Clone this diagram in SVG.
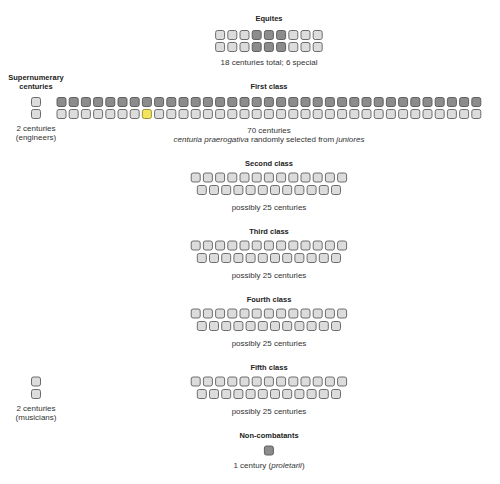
<svg xmlns="http://www.w3.org/2000/svg" xmlns:xlink="http://www.w3.org/1999/xlink" width="500" height="484" viewBox="0 0 500 484">
<style>
text{font-family:"Liberation Sans",Arial,Helvetica,sans-serif;fill:#222;text-anchor:middle}
.t{font-size:7.5px;font-weight:bold}
.c{font-size:8px;fill:#333}
.l{fill:#dcdcdc;stroke:#5e5e5e;stroke-width:0.9}
.d{fill:#8c8c8c;stroke:#555;stroke-width:0.9}
.y{fill:#f2e55c;stroke:#8f8530;stroke-width:0.9}
</style>
<defs>
<rect id="b" width="9" height="9" rx="2"/>
<g id="rows25">
<use href="#b" class="l" x="191.2" y="0"/><use href="#b" class="l" x="203.4" y="0"/><use href="#b" class="l" x="215.6" y="0"/><use href="#b" class="l" x="227.8" y="0"/><use href="#b" class="l" x="240" y="0"/><use href="#b" class="l" x="252.2" y="0"/><use href="#b" class="l" x="264.4" y="0"/><use href="#b" class="l" x="276.6" y="0"/><use href="#b" class="l" x="288.8" y="0"/><use href="#b" class="l" x="301" y="0"/><use href="#b" class="l" x="313.2" y="0"/><use href="#b" class="l" x="325.4" y="0"/><use href="#b" class="l" x="337.6" y="0"/>
<use href="#b" class="l" x="197.3" y="12.5"/><use href="#b" class="l" x="209.5" y="12.5"/><use href="#b" class="l" x="221.7" y="12.5"/><use href="#b" class="l" x="233.9" y="12.5"/><use href="#b" class="l" x="246.1" y="12.5"/><use href="#b" class="l" x="258.3" y="12.5"/><use href="#b" class="l" x="270.5" y="12.5"/><use href="#b" class="l" x="282.7" y="12.5"/><use href="#b" class="l" x="294.9" y="12.5"/><use href="#b" class="l" x="307.1" y="12.5"/><use href="#b" class="l" x="319.3" y="12.5"/><use href="#b" class="l" x="331.5" y="12.5"/>
</g>
</defs>
<rect width="500" height="484" fill="#fff"/>

<g id="equites">
<text class="t" x="269" y="21">Equites</text>
<use href="#b" class="l" x="215.6" y="30.5"/><use href="#b" class="l" x="227.8" y="30.5"/><use href="#b" class="l" x="240" y="30.5"/><use href="#b" class="d" x="252.2" y="30.5"/><use href="#b" class="d" x="264.4" y="30.5"/><use href="#b" class="d" x="276.6" y="30.5"/><use href="#b" class="l" x="288.8" y="30.5"/><use href="#b" class="l" x="301" y="30.5"/><use href="#b" class="l" x="313.2" y="30.5"/>
<use href="#b" class="l" x="215.6" y="42.5"/><use href="#b" class="l" x="227.8" y="42.5"/><use href="#b" class="l" x="240" y="42.5"/><use href="#b" class="d" x="252.2" y="42.5"/><use href="#b" class="d" x="264.4" y="42.5"/><use href="#b" class="d" x="276.6" y="42.5"/><use href="#b" class="l" x="288.8" y="42.5"/><use href="#b" class="l" x="301" y="42.5"/><use href="#b" class="l" x="313.2" y="42.5"/>
<text class="c" x="269" y="65">18 centuries total; 6 special</text>
</g>

<g id="engineers">
<text class="t" x="36" y="80">Supernumerary</text>
<text class="t" x="36" y="89">centuries</text>
<use href="#b" class="l" x="31.5" y="97.5"/>
<use href="#b" class="l" x="31.5" y="109.5"/>
<text class="c" x="36" y="131">2 centuries</text>
<text class="c" x="36" y="139.5">(engineers)</text>
</g>

<g id="first-class">
<text class="t" x="269" y="89">First class</text>
<use href="#b" class="d" x="57" y="97.5"/><use href="#b" class="d" x="69.2" y="97.5"/><use href="#b" class="d" x="81.4" y="97.5"/><use href="#b" class="d" x="93.6" y="97.5"/><use href="#b" class="d" x="105.8" y="97.5"/><use href="#b" class="d" x="118" y="97.5"/><use href="#b" class="d" x="130.2" y="97.5"/><use href="#b" class="d" x="142.4" y="97.5"/><use href="#b" class="d" x="154.6" y="97.5"/><use href="#b" class="d" x="166.8" y="97.5"/><use href="#b" class="d" x="179" y="97.5"/><use href="#b" class="d" x="191.2" y="97.5"/><use href="#b" class="d" x="203.4" y="97.5"/><use href="#b" class="d" x="215.6" y="97.5"/><use href="#b" class="d" x="227.8" y="97.5"/><use href="#b" class="d" x="240" y="97.5"/><use href="#b" class="d" x="252.2" y="97.5"/><use href="#b" class="d" x="264.4" y="97.5"/><use href="#b" class="d" x="276.6" y="97.5"/><use href="#b" class="d" x="288.8" y="97.5"/><use href="#b" class="d" x="301" y="97.5"/><use href="#b" class="d" x="313.2" y="97.5"/><use href="#b" class="d" x="325.4" y="97.5"/><use href="#b" class="d" x="337.6" y="97.5"/><use href="#b" class="d" x="349.8" y="97.5"/><use href="#b" class="d" x="362" y="97.5"/><use href="#b" class="d" x="374.2" y="97.5"/><use href="#b" class="d" x="386.4" y="97.5"/><use href="#b" class="d" x="398.6" y="97.5"/><use href="#b" class="d" x="410.8" y="97.5"/><use href="#b" class="d" x="423" y="97.5"/><use href="#b" class="d" x="435.2" y="97.5"/><use href="#b" class="d" x="447.4" y="97.5"/><use href="#b" class="d" x="459.6" y="97.5"/><use href="#b" class="d" x="471.8" y="97.5"/>
<use href="#b" class="l" x="57" y="109.5"/><use href="#b" class="l" x="69.2" y="109.5"/><use href="#b" class="l" x="81.4" y="109.5"/><use href="#b" class="l" x="93.6" y="109.5"/><use href="#b" class="l" x="105.8" y="109.5"/><use href="#b" class="l" x="118" y="109.5"/><use href="#b" class="l" x="130.2" y="109.5"/><use href="#b" class="y" x="142.4" y="109.5"/><use href="#b" class="l" x="154.6" y="109.5"/><use href="#b" class="l" x="166.8" y="109.5"/><use href="#b" class="l" x="179" y="109.5"/><use href="#b" class="l" x="191.2" y="109.5"/><use href="#b" class="l" x="203.4" y="109.5"/><use href="#b" class="l" x="215.6" y="109.5"/><use href="#b" class="l" x="227.8" y="109.5"/><use href="#b" class="l" x="240" y="109.5"/><use href="#b" class="l" x="252.2" y="109.5"/><use href="#b" class="l" x="264.4" y="109.5"/><use href="#b" class="l" x="276.6" y="109.5"/><use href="#b" class="l" x="288.8" y="109.5"/><use href="#b" class="l" x="301" y="109.5"/><use href="#b" class="l" x="313.2" y="109.5"/><use href="#b" class="l" x="325.4" y="109.5"/><use href="#b" class="l" x="337.6" y="109.5"/><use href="#b" class="l" x="349.8" y="109.5"/><use href="#b" class="l" x="362" y="109.5"/><use href="#b" class="l" x="374.2" y="109.5"/><use href="#b" class="l" x="386.4" y="109.5"/><use href="#b" class="l" x="398.6" y="109.5"/><use href="#b" class="l" x="410.8" y="109.5"/><use href="#b" class="l" x="423" y="109.5"/><use href="#b" class="l" x="435.2" y="109.5"/><use href="#b" class="l" x="447.4" y="109.5"/><use href="#b" class="l" x="459.6" y="109.5"/><use href="#b" class="l" x="471.8" y="109.5"/>
<text class="c" x="269" y="133">70 centuries</text>
<text class="c" x="269" y="142"><tspan font-style="italic">centuria praerogativa</tspan> randomly selected from <tspan font-style="italic">juniores</tspan></text>
</g>

<g id="second-class">
<text class="t" x="269" y="166">Second class</text>
<use href="#rows25" y="173"/>
<text class="c" x="269" y="210">possibly 25 centuries</text>
</g>

<g id="third-class">
<text class="t" x="269" y="234">Third class</text>
<use href="#rows25" y="241"/>
<text class="c" x="269" y="278">possibly 25 centuries</text>
</g>

<g id="fourth-class">
<text class="t" x="269" y="302">Fourth class</text>
<use href="#rows25" y="309"/>
<text class="c" x="269" y="346">possibly 25 centuries</text>
</g>

<g id="fifth-class">
<text class="t" x="269" y="370">Fifth class</text>
<use href="#rows25" y="377"/>
<text class="c" x="269" y="414">possibly 25 centuries</text>
</g>

<g id="musicians">
<use href="#b" class="l" x="31.5" y="377"/>
<use href="#b" class="l" x="31.5" y="389.5"/>
<text class="c" x="36" y="411">2 centuries</text>
<text class="c" x="36" y="419.5">(musicians)</text>
</g>

<g id="non-combatants">
<text class="t" x="269" y="438">Non-combatants</text>
<use href="#b" class="d" x="264.4" y="446"/>
<text class="c" x="269" y="468">1 century (<tspan font-style="italic">proletarii</tspan>)</text>
</g>
</svg>
